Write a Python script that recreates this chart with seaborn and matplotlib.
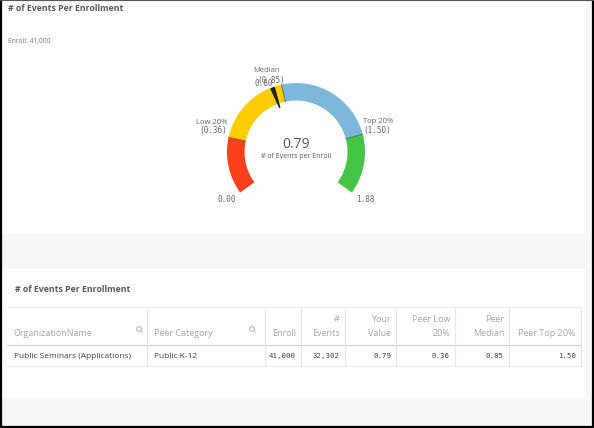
import numpy as np
import matplotlib
matplotlib.use("Agg")
import matplotlib.pyplot as plt
import seaborn as sns
from matplotlib.patches import Rectangle, Circle

# gauge data
seg_bounds = [0.00, 0.36, 0.85, 1.50, 1.88]
seg_colors = ["#f8401a", "#ffcc00", "#7db7da", "#45c545"]
your_value = 0.79
needle_label = "0.80"
low20 = 0.36
median = 0.85
top20 = 1.50
enroll = 41000
events = 32302

# table data
col_headers = ["OrganizationName", "Peer Category", "Enroll", "#\nEvents", "Your\nValue",
               "Peer Low\n20%", "Peer\nMedian", "Peer Top 20%"]
org_name = "Public Seminars (Applications)"
peer_category = "Public K-12"

sns.set_theme(style="white")
plt.rcParams["font.family"] = ["Open Sans", "DejaVu Sans"]
mono = "DejaVu Sans Mono"

W, H = 594, 428
fig = plt.figure(figsize=(W / 100, H / 100), dpi=100, facecolor="#f7f7f7")
ax = fig.add_axes([0, 0, 1, 1])
ax.set_xlim(0, W)
ax.set_ylim(H, 0)
ax.axis("off")

# white panels and frame
ax.add_patch(Rectangle((2, 0), 582, 233, color="white", zorder=0))
ax.add_patch(Rectangle((2, 269), 582, 128, color="white", zorder=0))
ax.plot([1, 1, W - 1, W - 1], [0, H - 1, H - 1, 0], color="black", lw=1.6, zorder=5)
ax.plot([0, W], [0.4, 0.4], color="#555555", lw=0.8, zorder=5)

# top panel titles
ax.text(8, 8.5, "# of Events Per Enrollment", fontsize=6.3, fontweight="bold", color="#595959", va="center")
ax.text(8, 41, f"Enroll: {enroll:,}", fontsize=4.8, color="#777777", va="center")

# gauge
cx, cy, R, band = 296, 152, 69, 17.5
span = 252
start = 90 + span / 2
gmin, gmax = seg_bounds[0], seg_bounds[-1]
gax = fig.add_axes([(cx - 100) / W, (H - cy - 100) / H, 200 / W, 200 / H])
gax.patch.set_alpha(0)
sizes = list(np.diff(seg_bounds)) + [(gmax - gmin) * (360 - span) / span]
wedges, _ = gax.pie(sizes, colors=seg_colors + ["none"], radius=R, startangle=start,
                    counterclock=False, wedgeprops=dict(width=band, linewidth=0))
gax.set_xlim(-100, 100)
gax.set_ylim(-100, 100)
gax.set_aspect("auto")
gax.axis("off")


def to_ang(v):
    return np.deg2rad(start - (v - gmin) / (gmax - gmin) * span)


for b in seg_bounds[1:-1]:
    a = to_ang(b)
    gax.plot([(R - band) * np.cos(a), R * np.cos(a)], [(R - band) * np.sin(a), R * np.sin(a)],
             color="#444444", lw=0.8, alpha=0.6)

a = to_ang(your_value)
perp = a + np.pi / 2
base = np.array([(R - 1) * np.cos(a), (R - 1) * np.sin(a)])
tip = np.array([(R - 22) * np.cos(a), (R - 22) * np.sin(a)])
off = 1.8 * np.array([np.cos(perp), np.sin(perp)])
tri = np.array([base + off, base - off, tip])
gax.fill(tri[:, 0], tri[:, 1], color="#222222", zorder=4)

lab_c = "#666666"
ax.text(cx, 145, f"{your_value:.2f}", fontsize=10, color="#595959", ha="center", va="center")
ax.text(cx, 157, "# of Events per Enroll", fontsize=5, color="#595959", ha="center", va="center")
ax.text(267, 70, "Median", fontsize=5.5, color=lab_c, ha="center", va="center")
ax.text(271, 80, f"({median:.2f})", fontsize=5.5, color=lab_c, ha="center", va="center", family=mono)
ax.text(264, 83, needle_label, fontsize=5.5, color=lab_c, ha="center", va="center", family=mono)
ax.text(227, 122, "Low 20%", fontsize=5.5, color=lab_c, ha="right", va="center")
ax.text(227, 131, f"({low20:.2f})", fontsize=5.5, color=lab_c, ha="right", va="center", family=mono)
ax.text(363, 121, "Top 20%", fontsize=5.5, color=lab_c, ha="left", va="center")
ax.text(363, 131, f"({top20:.2f})", fontsize=5.5, color=lab_c, ha="left", va="center", family=mono)
ax.text(227, 199, f"{gmin:.2f}", fontsize=5.5, color=lab_c, ha="center", va="center", family=mono)
ax.text(365, 199, f"{gmax:.2f}", fontsize=5.5, color=lab_c, ha="center", va="center", family=mono)

# table panel
ax.text(15, 289, "# of Events Per Enrollment", fontsize=6.3, fontweight="bold", color="#595959", va="center")
edges = [7, 147, 265, 301, 345, 396, 455, 509, 581]
y_top, y_mid, y_bot = 307, 345, 366
ax.plot([edges[0], edges[-1]], [y_top, y_top], color="#ececec", lw=0.8)
ax.plot([edges[0], edges[-1]], [y_mid, y_mid], color="#d4d4d4", lw=0.9)
ax.plot([edges[0], edges[-1]], [y_bot, y_bot], color="#ececec", lw=0.8)
for e in edges[1:]:
    ax.plot([e, e], [y_top, y_bot], color="#e6e6e6", lw=0.8)

row = [org_name, peer_category, f"{enroll:,}", f"{events:,}", f"{events / enroll:.2f}",
       f"{low20:.2f}", f"{median:.2f}", f"{top20:.2f}"]
for i, (h, v) in enumerate(zip(col_headers, row)):
    lines = h.split("\n")
    if i < 2:
        x, ha = edges[i] + 7, "left"
    else:
        x, ha = edges[i + 1] - 5, "right"
    if len(lines) == 2:
        ax.text(x, 319, lines[0], fontsize=6.5, color="#a6a6a6", ha=ha, va="center")
    ax.text(x, 334, lines[-1], fontsize=6.5, color="#a6a6a6", ha=ha, va="center")
    if i < 2:
        ax.text(x, 356, v, fontsize=6, color="#404040", ha=ha, va="center")
    else:
        ax.text(x, 356, v, fontsize=5.3, color="#404040", ha=ha, va="center", family=mono)

# search icons
for sx in [139, 252]:
    ax.add_patch(Circle((sx, 329), 2.3, fill=False, ec="#b0b0b0", lw=0.7))
    ax.plot([sx + 1.6, sx + 3.5], [330.6, 332.5], color="#b0b0b0", lw=0.7)

fig.savefig("out.png", dpi=100, facecolor=fig.get_facecolor())
